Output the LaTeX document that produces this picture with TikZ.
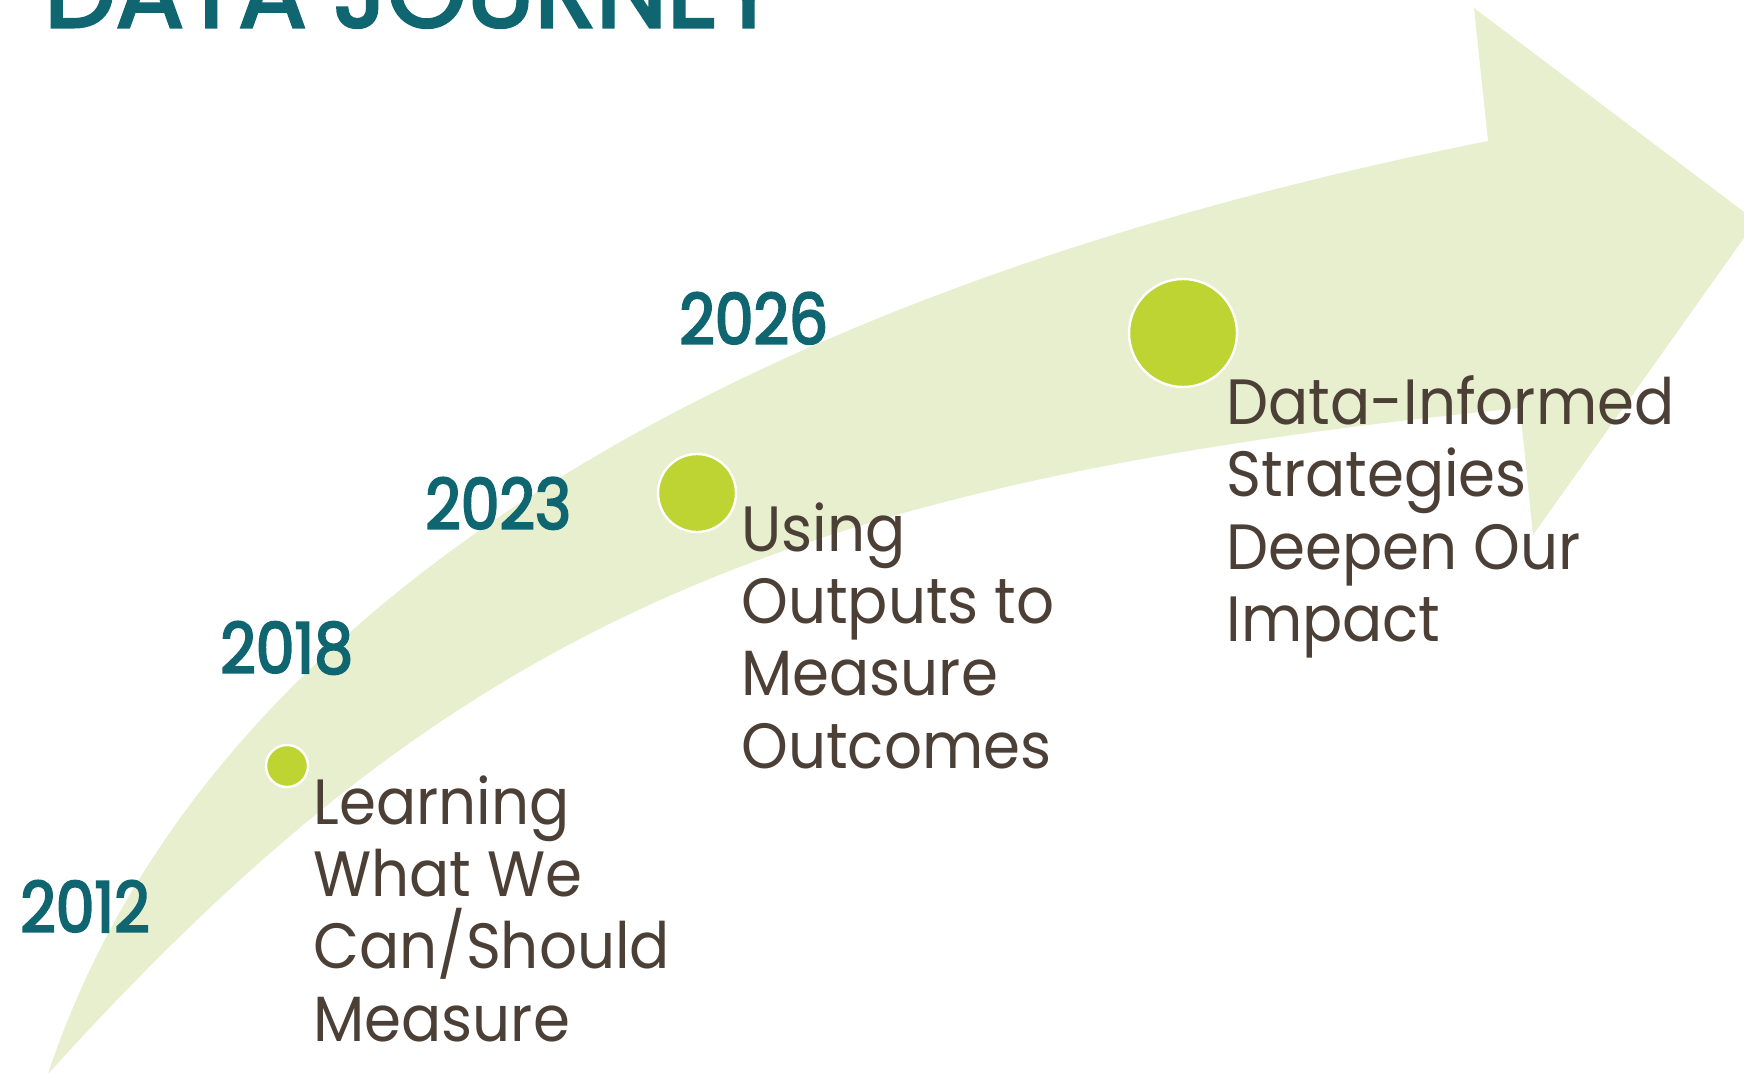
\documentclass[tikz,border=0pt]{standalone}
\usepackage{fontspec}
\setmainfont[FakeStretch=0.93]{Poppins}
\newfontfamily\yearfont[FakeStretch=0.88,FakeBold=3]{Poppins}
\newfontfamily\titlefont[FakeBold=3]{Poppins}
\usetikzlibrary{positioning}

\definecolor{arrowgreen}{HTML}{E7EFCF}
\definecolor{dotgreen}{HTML}{BDD432}
\definecolor{journeyteal}{HTML}{0F6570}
\definecolor{textbrown}{HTML}{4B3F36}

\begin{document}
\begin{tikzpicture}[x=0.5pt,y=-0.5pt]
\tikzset{
dot/.style={circle, fill=dotgreen, draw=white, line width=1.2pt, inner sep=0pt},
year/.style={anchor=base west, text=journeyteal, inner sep=0pt,
font=\yearfont\fontsize{35}{35}\selectfont},
desc/.style={anchor=north west, align=left, text=textbrown, inner sep=0pt,
font=\fontsize{32}{36.2}\selectfont},
title/.style={anchor=base west, text=journeyteal, inner sep=0pt,
font=\titlefont\fontsize{50.5}{50.5}\selectfont},
}
\useasboundingbox (0,0) rectangle (1744,1072);
\clip (0,0) rectangle (1744,1072);

\fill[arrowgreen] (48,1074) .. controls (208,592) and (758,286) .. (1488,141)
  -- (1474,8) -- (1756,221) -- (1533,535) -- (1520,408)
  .. controls (770,483) and (448,632) .. (48,1074) -- cycle;

\node[title] (head) at (44,27) {DATA JOURNEY};

\node[dot, minimum size=21pt] (d1) at (287,766) {};
\node[dot, minimum size=39pt] (d2) at (697,493) {};
\node[dot, minimum size=54pt] (d3) at (1183,333) {};

\node[year] (y2012) at (20,932) {2012};
\node[year] (y2018) at (220,673) {2018};
\node[year] (y2023) at (425,529) {2023};
\node[year] (y2026) at (679,344) {2026};

\node[desc] (learn) at (313,775) {Learning\\What We\\Can/Should\\Measure};
\node[desc] (using) at (741,502) {Using\\Outputs to\\Measure\\Outcomes};
\node[desc] (deepen) at (1226,375) {Data-Informed\\Strategies\\Deepen Our\\Impact};
\end{tikzpicture}
\end{document}
